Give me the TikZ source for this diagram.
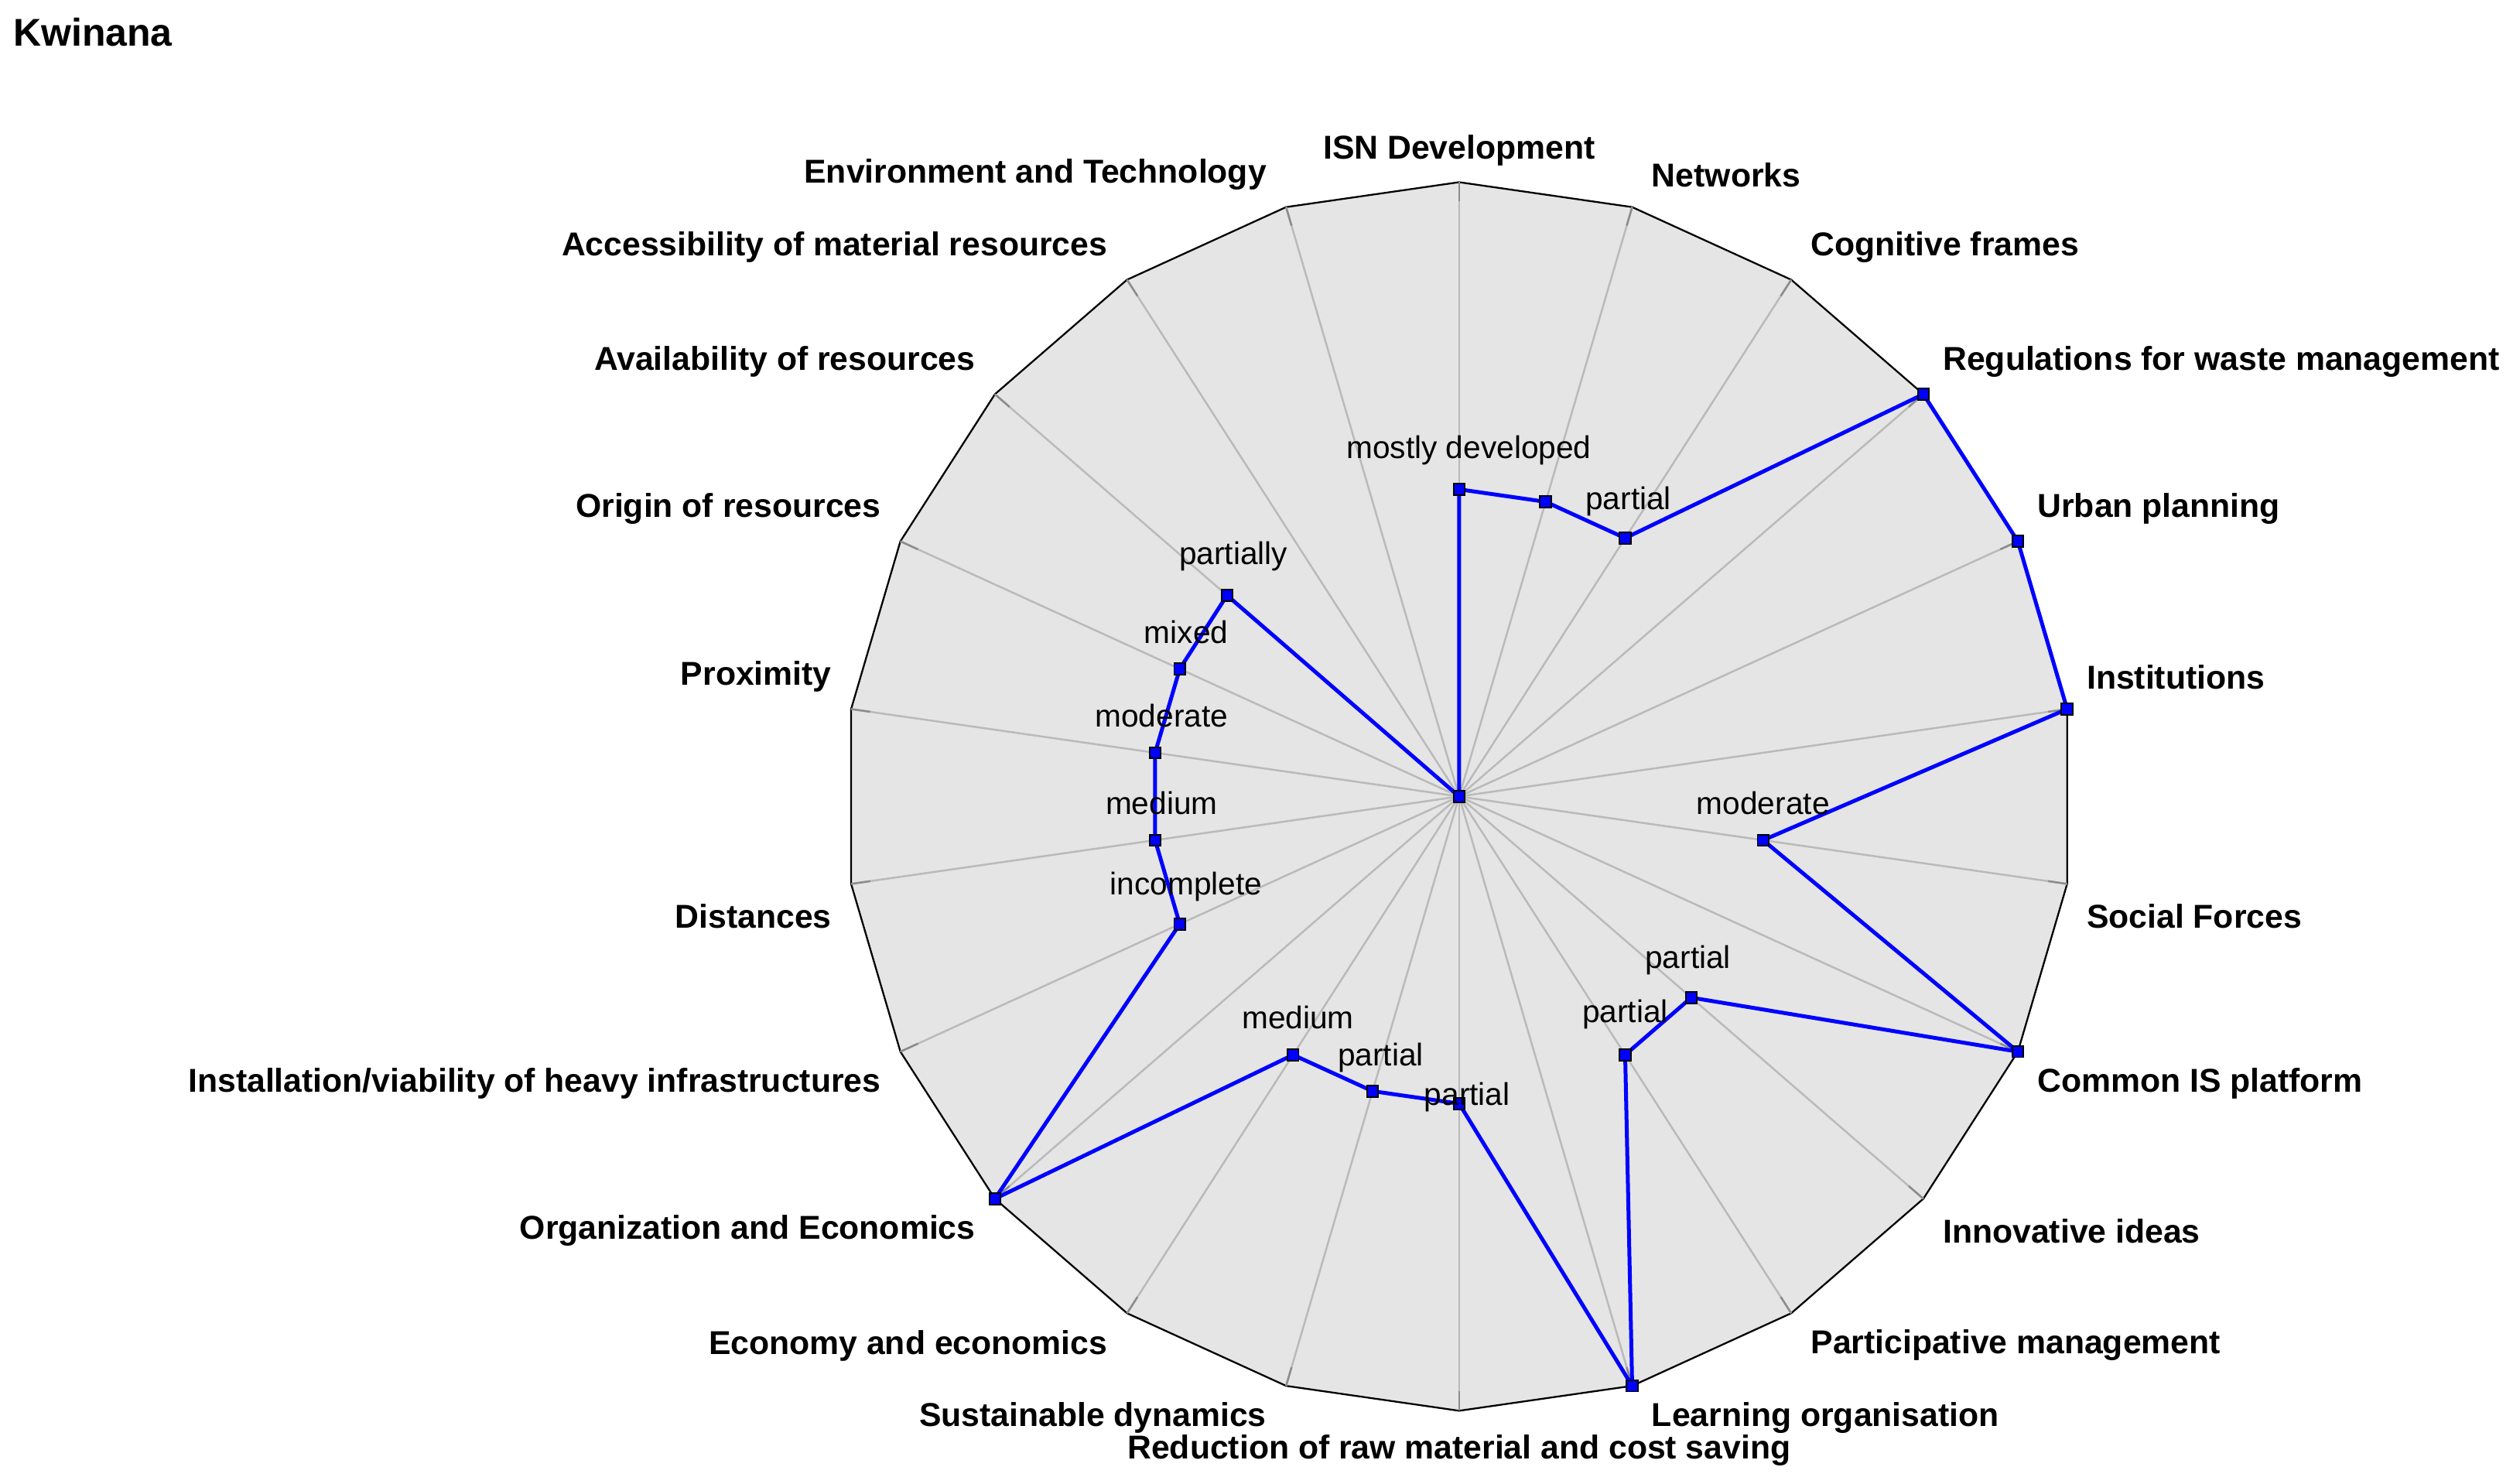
\documentclass[tikz,border=0pt]{standalone}
\usepackage{fontspec}
\setmainfont{Liberation Sans}
\usetikzlibrary{calc}
\begin{document}
\begin{tikzpicture}[x=1pt,y=1pt,
  axlab/.style={font=\fontsize{20.5}{23}\selectfont\bfseries, inner sep=0pt},
  vallab/.style={font=\fontsize{19.5}{22}\selectfont, inner sep=0pt},
  mk/.style={draw=black, fill=blue, minimum size=7pt, inner sep=0pt, line width=0.9pt}]
\useasboundingbox (0,0) rectangle (1563,-920);
\node[font=\fontsize{24}{27}\selectfont\bfseries, anchor=west, inner sep=0pt] (title) at (8,-20) {Kwinana};
\coordinate (c) at (905,-494);
\def\R{381}
\foreach \k in {0,...,21}{ \coordinate (o\k) at ($(c)+({90-16.363636*\k}:\R)$); }
\draw[black, line width=1.1pt, fill=black!10]
  (o0)--(o1)--(o2)--(o3)--(o4)--(o5)--(o6)--(o7)--(o8)--(o9)--(o10)--(o11)--(o12)--(o13)--(o14)--(o15)--(o16)--(o17)--(o18)--(o19)--(o20)--(o21)--cycle;
\foreach \k in {0,...,21}{
  \draw[black!27, line width=1.2pt] (c) -- (o\k);
  \draw[black!45, line width=1.2pt] ($(c)!\R pt-12pt!(o\k)$) -- (o\k);
}
\foreach \k/\t in {1/Networks,2/Cognitive frames,3/Regulations for waste management,4/Urban planning,5/Institutions,6/Social Forces,7/Common IS platform,8/Innovative ideas,9/Participative management,10/Learning organisation,12/Sustainable dynamics,13/Economy and economics,14/Organization and Economics,15/{Installation/viability of heavy infrastructures},16/Distances,17/Proximity,18/Origin of resources,19/Availability of resources,20/Accessibility of material resources,21/Environment and Technology}{
  \pgfmathsetmacro\ang{90-16.363636*\k}
  \pgfmathsetmacro\sx{cos(\ang)>0 ? 1 : -1}
  \pgfmathsetmacro\sy{sin(\ang)>0 ? 1 : -1}
  \pgfmathsetmacro\anc{\sx>0 ? "west" : "east"}
  \node[axlab, anchor=\anc] (l\k) at ($(o\k)+(12*\sx,20*\sy)$) {\t};
}
\node[axlab, anchor=south] (l0) at ($(o0)+(0,10)$) {ISN Development};
\node[axlab, anchor=north] (l11) at ($(o11)+(0,-15)$) {Reduction of raw material and cost saving};
\foreach \k/\v in {0/0.5,1/0.5,2/0.5,3/1,4/1,5/1,6/0.5,7/1,8/0.5,9/0.5,10/1,11/0.5,12/0.5,13/0.5,14/1,15/0.5,16/0.5,17/0.5,18/0.5,19/0.5,20/0,21/0}{
  \coordinate (p\k) at ($(c)!\v!(o\k)$);
}
\draw[blue, line width=2.4pt, line join=round] (p0)--(p1)--(p2)--(p3)--(p4)--(p5)--(p6)--(p7)--(p8)--(p9)--(p10)--(p11)--(p12)--(p13)--(p14)--(p15)--(p16)--(p17)--(p18)--(p19)--(p20)--(p21)--cycle;
\foreach \k in {0,...,19}{ \node[mk] (m\k) at (p\k) {}; }
\node[mk] (m20) at (c) {};
\foreach \k/\t/\dx/\dy in {0/mostly developed/6/24,2/partial/2/23,6/moderate/0/23,8/partial/-2/23,9/partial/0/25,11/partial/5/4,12/partial/5/21,13/medium/3/23,15/incomplete/4/23,16/medium/4/23,17/moderate/4/23,18/mixed/4/23,19/partially/4/24}{
  \node[vallab] (v\k) at ($(p\k)+(\dx,\dy)$) {\t};
}
\end{tikzpicture}
\end{document}
